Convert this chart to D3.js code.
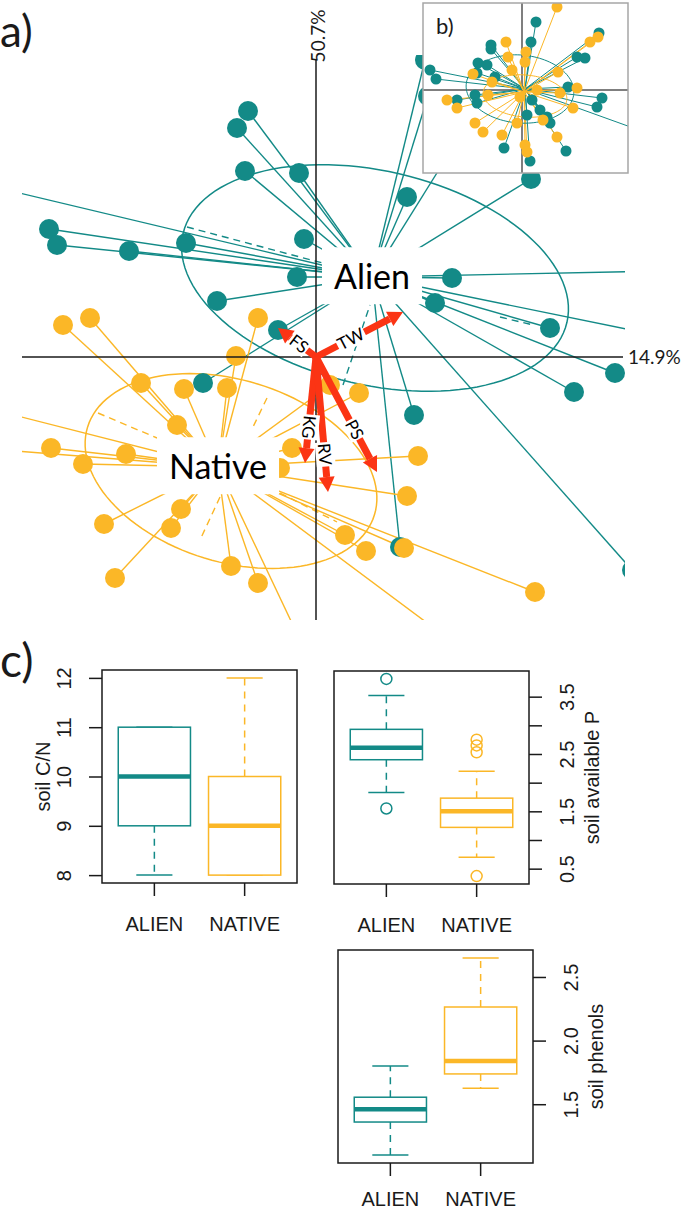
<!DOCTYPE html>
<html>
<head>
<meta charset="utf-8">
<script src="https://cdn.jsdelivr.net/npm/d3@7"></script>
<style>
  body { margin: 0; background: #fff; }
  svg { display: block; }
</style>
</head>
<body>
<svg id="chart" width="685" height="1212"></svg>
<script>
// ---- panel a) ordination scores (axis 1 = 14.9%, axis 2 = 50.7%)
const alienX = [-0.68, -0.79, -0.71, -0.17, -2.67, -2.59, -1.87, -1.30, -0.12, -0.19, -0.99, 0.91, 2.15, 1.36, 1.19,
  -0.38, -1.13, 2.34, 2.99, 2.58, 0.98, 0.84, 3.16, -3.26, 3.44, 3.44, 1.09, 1.12, 1.54];
const alienY = [2.46, 2.29, 1.86, 1.84, 1.28, 1.12, 1.06, 1.14, 1.18, 0.80, 0.56, 1.60, 1.78, 0.79, 0.54,
  0.27, -0.26, 0.29, -0.16, -0.35, -0.58, -1.90, -2.13, 1.71, 0.86, 0.21, 2.97, 2.61, 2.37];
const nativeX = [-2.53, -2.26, -0.58, -0.80, -1.75, -1.32, -0.89, -1.39, -2.65, -2.33, -1.90, -0.24, -0.36, -1.35, -1.45,
  -2.12, -2.01, -0.85, -0.58, 0.14, 0.43, 1.02, 0.91, 0.29, 0.50, 0.88, 2.19, -3.26, -3.26, -0.16, 1.34];
const nativeY = [0.32, 0.39, 0.39, 0.01, -0.26, -0.32, -0.31, -0.68, -0.91, -1.07, -0.97, -0.91, -1.11, -1.52, -1.71,
  -1.67, -2.21, -2.09, -2.26, -0.28, -0.36, -0.99, -1.39, -1.78, -1.94, -1.91, -2.35, -0.52, -0.92, -2.83, -2.83];
const alienCentre = [0.56, 0.80];
const nativeCentre = [-0.98, -1.10];
// ellipse: centre x, centre y, semi axis a, semi axis b, angle (deg)
const alienEllipse = [0.59, 0.79, 1.97, 1.07, -13];
const nativeEllipse = [-0.85, -1.14, 1.50, 0.91, -17];
const alienDashes = [[-1.29, 1.30, 0.14, 0.92], [0.27, -0.28, 0.54, 0.52], [1.84, 0.40, 2.17, 0.32]];
const nativeDashes = [[-2.18, -0.56, -1.59, -0.81], [-0.49, -0.41, -0.63, -0.70], [-0.96, -1.40, -1.16, -1.83], [-0.36, -1.36, 0.21, -1.65]];

const envVars = ["FS", "TW", "KG", "RV", "PS"];
const envX = [-0.38, 0.87, -0.11, 0.12, 0.61];
const envY = [0.29, 0.45, -1.06, -1.35, -1.15];

const axisLabels = ["14.9%", "50.7%"];

// ---- panel b) inset ordination
const insetAlienX = [0.28, 0.18, 1.54, -0.62, -0.62, -1.84, -1.72, -0.88, -0.70, -0.90, -0.54, 1.10, 1.26, -1.30,
  -0.94, -0.90, 0.92, 1.60, 1.50, 0.20, 0.36, 0.50, 0.56, 0.10, -0.36, 0.88, 0.16, 2.56];
const insetAlienY = [1.36, 0.96, 1.14, 0.90, 0.82, 0.40, 0.22, 0.54, 0.50, 0.34, 0.26, 0.66, 0.64, -0.20,
  -0.10, -0.26, 0.06, -0.16, -0.34, -0.20, -0.40, -0.54, -0.66, -0.50, -1.16, -1.22, -1.42, -0.88];
const insetNativeX = [0.70, 1.52, 1.36, -0.32, 0.08, -0.28, 0.06, -0.20, -0.98, 0.72, 1.10, -1.50, -1.30, -0.60,
  -0.04, 0.30, 0.76, 1.02, -0.94, -0.78, -0.10, -0.40, 0.42, 0.70, 0.06, 0.10, -0.68];
const insetNativeY = [1.66, 1.06, 0.96, 0.96, 0.76, 0.66, 0.56, 0.40, 0.32, 0.36, 0.04, -0.20, -0.36, 0.16,
  -0.14, 0.00, -0.06, -0.36, -0.66, -0.84, -0.66, -0.90, -0.60, -0.94, -1.10, -1.24, -0.10];
const insetAlienCentre = [0.06, 0.02];
const insetNativeCentre = [0.04, -0.04];
const insetAlienEllipse = [-0.04, 0.02, 1.08, 0.68, -5];
const insetNativeEllipse = [0.06, -0.12, 0.84, 0.42, -5];

// ---- panel c) boxplots: [min, q1, median, q3, max]
const groups = ["ALIEN", "NATIVE"];
const cnStats = [[8, 9, 10, 11, 11], [8, 8, 9, 10, 12]];
const cnOut = [[], []];
const cnTicks = [8, 9, 10, 11, 12];
const cnTickLabels = ["8", "9", "10", "11", "12"];
const pStats = [[1.83, 2.40, 2.61, 2.93, 3.52], [0.70, 1.22, 1.50, 1.73, 2.20]];
const pOut = [[3.81, 1.55], [2.75, 2.65, 2.53, 0.37]];
const pTicks = [0.5, 1, 1.5, 2, 2.5, 3, 3.5];
const pTickLabels = ["0.5", "", "1.5", "", "2.5", "", "3.5"];
const phenStats = [[1.10, 1.36, 1.46, 1.555, 1.80], [1.625, 1.738, 1.84, 2.264, 2.65]];
const phenOut = [[], []];
const phenTicks = [1.5, 2, 2.5];
const phenTickLabels = ["1.5", "2.0", "2.5"];

const teal = "#138a87",
  yellow = "#fbb727",
  red = "#fb3414",
  ink = "#1a1a1a";
const labelFont = "Lato, 'Open Sans', sans-serif";
const rFont = "'Liberation Sans', Arial, sans-serif";

const svg = d3.select("#chart");

// ------------------------------------------------------------ panel a
const sx = d3.scaleLinear().domain([-3, 3]).range([16, 616]);
const sy = d3.scaleLinear().domain([-3, 3]).range([657, 57]);

svg.append("clipPath").attr("id", "clipA")
  .append("rect").attr("x", 22).attr("y", 55).attr("width", 603).attr("height", 565);

function ellipsePath(e, xs, ys) {
  const [cx, cy, a, b, deg] = e;
  const th = deg * Math.PI / 180;
  const pts = d3.range(0, 361, 3).map(t => {
    const r = t * Math.PI / 180;
    const u = a * Math.cos(r), v = b * Math.sin(r);
    return [xs(cx + u * Math.cos(th) - v * Math.sin(th)), ys(cy + u * Math.sin(th) + v * Math.cos(th))];
  });
  return d3.line()(pts);
}

const plotA = svg.append("g").attr("clip-path", "url(#clipA)");

// axes through origin
svg.append("line")
  .attr("x1", 22).attr("x2", 623).attr("y1", sy(0)).attr("y2", sy(0))
  .attr("stroke", ink).attr("stroke-width", 1.5);
svg.append("line")
  .attr("x1", sx(0)).attr("x2", sx(0)).attr("y1", 60).attr("y2", 620)
  .attr("stroke", ink).attr("stroke-width", 1.5);
svg.append("text")
  .attr("x", 628).attr("y", sy(0) + 7)
  .attr("font-family", labelFont).attr("font-size", 19).attr("fill", ink)
  .text(axisLabels[0]);
svg.append("text")
  .attr("transform", `translate(${sx(0) + 9},36) rotate(-90)`)
  .attr("text-anchor", "middle")
  .attr("font-family", labelFont).attr("font-size", 19).attr("fill", ink)
  .text(axisLabels[1]);

const groupsA = [
  { xs: alienX, ys: alienY, c: alienCentre, e: alienEllipse, dash: alienDashes, col: teal },
  { xs: nativeX, ys: nativeY, c: nativeCentre, e: nativeEllipse, dash: nativeDashes, col: yellow }
];

for (let g of groupsA) {
  plotA.append("g").selectAll("line")
    .data(g.xs.map((d, i) => [d, g.ys[i]]))
    .join("line")
    .attr("x1", d => sx(d[0])).attr("y1", d => sy(d[1]))
    .attr("x2", sx(g.c[0])).attr("y2", sy(g.c[1]))
    .attr("stroke", g.col).attr("stroke-width", 1.4);
  plotA.append("g").selectAll("line")
    .data(g.dash)
    .join("line")
    .attr("x1", d => sx(d[0])).attr("y1", d => sy(d[1]))
    .attr("x2", d => sx(d[2])).attr("y2", d => sy(d[3]))
    .attr("stroke", g.col).attr("stroke-width", 1.4)
    .attr("stroke-dasharray", "7,5");
  plotA.append("path")
    .attr("d", ellipsePath(g.e, sx, sy))
    .attr("fill", "none").attr("stroke", g.col).attr("stroke-width", 1.5);
}
for (let g of groupsA) {
  plotA.append("g").selectAll("circle")
    .data(g.xs.map((d, i) => [d, g.ys[i]]))
    .join("circle")
    .attr("cx", d => sx(d[0])).attr("cy", d => sy(d[1]))
    .attr("r", 10)
    .attr("fill", g.col);
}

// environmental arrows
const labelAt = [0.45, 0.4, 0.66, 0.72, 0.63];
const arrows = svg.append("g");
envVars.forEach((name, i) => {
  const x0 = sx(0), y0 = sy(0), x1 = sx(envX[i]), y1 = sy(envY[i]);
  const ang = Math.atan2(y1 - y0, x1 - x0);
  const head = 15, half = 8;
  const bx = x1 - head * Math.cos(ang), by = y1 - head * Math.sin(ang);
  arrows.append("line")
    .attr("x1", x0).attr("y1", y0).attr("x2", bx).attr("y2", by)
    .attr("stroke", red).attr("stroke-width", 7).attr("stroke-linecap", "butt");
  arrows.append("path")
    .attr("d", d3.line()([
      [x1, y1],
      [bx - half * Math.sin(ang), by + half * Math.cos(ang)],
      [bx + half * Math.sin(ang), by - half * Math.cos(ang)]
    ]) + "Z")
    .attr("fill", red);
  let deg = ang * 180 / Math.PI;
  if (Math.cos(ang) < -0.5) deg += 180;
  const lx = x0 + (x1 - x0) * labelAt[i], ly = y0 + (y1 - y0) * labelAt[i];
  const lg = svg.append("g").attr("transform", `translate(${lx},${ly}) rotate(${deg})`);
  const t = lg.append("text")
    .attr("text-anchor", "middle").attr("dy", "0.35em")
    .attr("font-family", labelFont).attr("font-size", 17).attr("fill", "#000")
    .text(name);
  const bb = t.node().getBBox();
  lg.insert("rect", "text")
    .attr("x", bb.x - 1).attr("y", bb.y + 1).attr("width", bb.width + 2).attr("height", bb.height - 2)
    .attr("fill", "#fff");
});

// group labels at centroids
[["Alien", alienCentre], ["Native", nativeCentre]].forEach(([name, c]) => {
  const lg = svg.append("g").attr("transform", `translate(${sx(c[0])},${sy(c[1])})`);
  const t = lg.append("text")
    .attr("text-anchor", "middle").attr("dy", "0.36em")
    .attr("font-family", labelFont).attr("font-size", 34).attr("fill", "#000")
    .text(name);
  const bb = t.node().getBBox();
  lg.insert("rect", "text")
    .attr("x", bb.x - 12).attr("y", bb.y - 8).attr("width", bb.width + 24).attr("height", bb.height + 16)
    .attr("fill", "#fff");
});

// ------------------------------------------------------------ panel b (inset)
const inset = { x: 423, y: 3, w: 205, h: 170 };
const ix = d3.scaleLinear().domain([-2, 2]).range([422, 622]);
const iy = d3.scaleLinear().domain([-2, 2]).range([190, -10]);
svg.append("clipPath").attr("id", "clipB")
  .append("rect").attr("x", inset.x).attr("y", inset.y).attr("width", inset.w).attr("height", inset.h);
svg.append("rect")
  .attr("x", inset.x).attr("y", inset.y).attr("width", inset.w).attr("height", inset.h)
  .attr("fill", "#fff");
const plotB = svg.append("g").attr("clip-path", "url(#clipB)");
plotB.append("line")
  .attr("x1", ix(0)).attr("x2", ix(0)).attr("y1", inset.y).attr("y2", inset.y + inset.h)
  .attr("stroke", "#555").attr("stroke-width", 1.5);
plotB.append("line")
  .attr("x1", inset.x).attr("x2", inset.x + inset.w).attr("y1", iy(0)).attr("y2", iy(0))
  .attr("stroke", "#555").attr("stroke-width", 1.5);

const groupsB = [
  { xs: insetAlienX, ys: insetAlienY, c: insetAlienCentre, e: insetAlienEllipse, col: teal },
  { xs: insetNativeX, ys: insetNativeY, c: insetNativeCentre, e: insetNativeEllipse, col: yellow }
];
for (let g of groupsB) {
  plotB.append("g").selectAll("line")
    .data(g.xs.map((d, i) => [d, g.ys[i]]))
    .join("line")
    .attr("x1", d => ix(d[0])).attr("y1", d => iy(d[1]))
    .attr("x2", ix(g.c[0])).attr("y2", iy(g.c[1]))
    .attr("stroke", g.col).attr("stroke-width", 1);
}
for (let g of groupsB) {
  plotB.append("path")
    .attr("d", ellipsePath(g.e, ix, iy))
    .attr("fill", "none").attr("stroke", g.col).attr("stroke-width", 1);
}
for (let g of groupsB) {
  plotB.append("g").selectAll("circle")
    .data(g.xs.map((d, i) => [d, g.ys[i]]))
    .join("circle")
    .attr("cx", d => ix(d[0])).attr("cy", d => iy(d[1]))
    .attr("r", 5.5)
    .attr("fill", g.col);
}
svg.append("rect")
  .attr("x", inset.x).attr("y", inset.y).attr("width", inset.w).attr("height", inset.h)
  .attr("fill", "none").attr("stroke", "#a6a6a6").attr("stroke-width", 1.5);
svg.append("text")
  .attr("x", 436).attr("y", 34)
  .attr("font-family", labelFont).attr("font-size", 22).attr("fill", ink)
  .text("b)");

svg.append("text")
  .attr("x", 0).attr("y", 47)
  .attr("font-family", labelFont).attr("font-size", 44).attr("fill", ink)
  .text("a)");

// ------------------------------------------------------------ panel c
function boxPanel(p) {
  const g = svg.append("g");
  const all = p.stats.flat().concat(p.out.flat());
  const [lo, hi] = d3.extent(all);
  const pad = (hi - lo) * 0.04;
  const y = d3.scaleLinear().domain([lo - pad, hi + pad]).range([p.y1, p.y0]);
  const x = d3.scalePoint().domain(groups).range([p.x0, p.x1]).padding(0.58);
  const bw = x.step() * 0.8;
  const cols = [teal, yellow];

  const axis = (p.side === "left" ? d3.axisLeft(y) : d3.axisRight(y))
    .tickValues(p.ticks)
    .tickFormat((d, i) => p.labels[i])
    .tickSize(13);
  const ag = g.append("g")
    .attr("transform", `translate(${p.side === "left" ? p.x0 : p.x1},0)`)
    .call(axis)
    .attr("font-size", 20).attr("font-family", rFont);
  ag.select(".domain").remove();
  ag.selectAll(".tick line").attr("stroke", ink).attr("stroke-width", 1.5);
  const off = p.side === "left" ? -38 : 38;
  ag.selectAll(".tick text")
    .attr("x", 0).attr("dy", "0.36em").attr("fill", ink)
    .attr("text-anchor", "middle")
    .attr("transform", `translate(${off},0) rotate(-90)`);

  g.append("text")
    .attr("transform", `translate(${p.side === "left" ? p.x0 - 59 : p.x1 + 63},${(p.y0 + p.y1) / 2}) rotate(-90)`)
    .attr("text-anchor", "middle").attr("dy", "0.36em")
    .attr("font-family", rFont).attr("font-size", 20).attr("fill", ink)
    .text(p.title);

  groups.forEach((name, i) => {
    const [mn, q1, md, q3, mx] = p.stats[i];
    const cx = x(name), col = cols[i];
    const bg = g.append("g").attr("stroke", col).attr("fill", "none").attr("stroke-width", 1.5);
    bg.append("line").attr("x1", cx).attr("x2", cx).attr("y1", y(q3)).attr("y2", y(mx))
      .attr("stroke-dasharray", "7,6");
    bg.append("line").attr("x1", cx).attr("x2", cx).attr("y1", y(q1)).attr("y2", y(mn))
      .attr("stroke-dasharray", "7,6");
    bg.append("line").attr("x1", cx - bw / 4).attr("x2", cx + bw / 4).attr("y1", y(mx)).attr("y2", y(mx));
    bg.append("line").attr("x1", cx - bw / 4).attr("x2", cx + bw / 4).attr("y1", y(mn)).attr("y2", y(mn));
    bg.append("rect")
      .attr("x", cx - bw / 2).attr("y", y(q3)).attr("width", bw).attr("height", y(q1) - y(q3))
      .attr("fill", "#fff");
    bg.append("line").attr("x1", cx - bw / 2).attr("x2", cx + bw / 2).attr("y1", y(md)).attr("y2", y(md))
      .attr("stroke-width", 4.5);
    bg.selectAll("circle").data(p.out[i]).join("circle")
      .attr("cx", cx).attr("cy", d => y(d)).attr("r", 5.5);

    g.append("line").attr("x1", cx).attr("x2", cx).attr("y1", p.y1).attr("y2", p.y1 + 13)
      .attr("stroke", ink).attr("stroke-width", 1.5);
    g.append("text")
      .attr("x", cx).attr("y", p.y1 + p.labelGap)
      .attr("text-anchor", "middle")
      .attr("font-family", rFont).attr("font-size", 20).attr("fill", ink)
      .text(name);
  });

  g.append("rect")
    .attr("x", p.x0).attr("y", p.y0).attr("width", p.x1 - p.x0).attr("height", p.y1 - p.y0)
    .attr("fill", "none").attr("stroke", ink).attr("stroke-width", 1.5);
}

boxPanel({ x0: 102, x1: 297, y0: 670, y1: 883, side: "left", stats: cnStats, out: cnOut,
  ticks: cnTicks, labels: cnTickLabels, title: "soil C/N", labelGap: 48 });
boxPanel({ x0: 334, x1: 529, y0: 671, y1: 884, side: "right", stats: pStats, out: pOut,
  ticks: pTicks, labels: pTickLabels, title: "soil available P", labelGap: 48 });
boxPanel({ x0: 338, x1: 533, y0: 950, y1: 1163, side: "right", stats: phenStats, out: phenOut,
  ticks: phenTicks, labels: phenTickLabels, title: "soil phenols", labelGap: 43 });

svg.append("text")
  .attr("x", 0).attr("y", 677)
  .attr("font-family", labelFont).attr("font-size", 46).attr("fill", ink)
  .text("c)");
</script>
</body>
</html>
